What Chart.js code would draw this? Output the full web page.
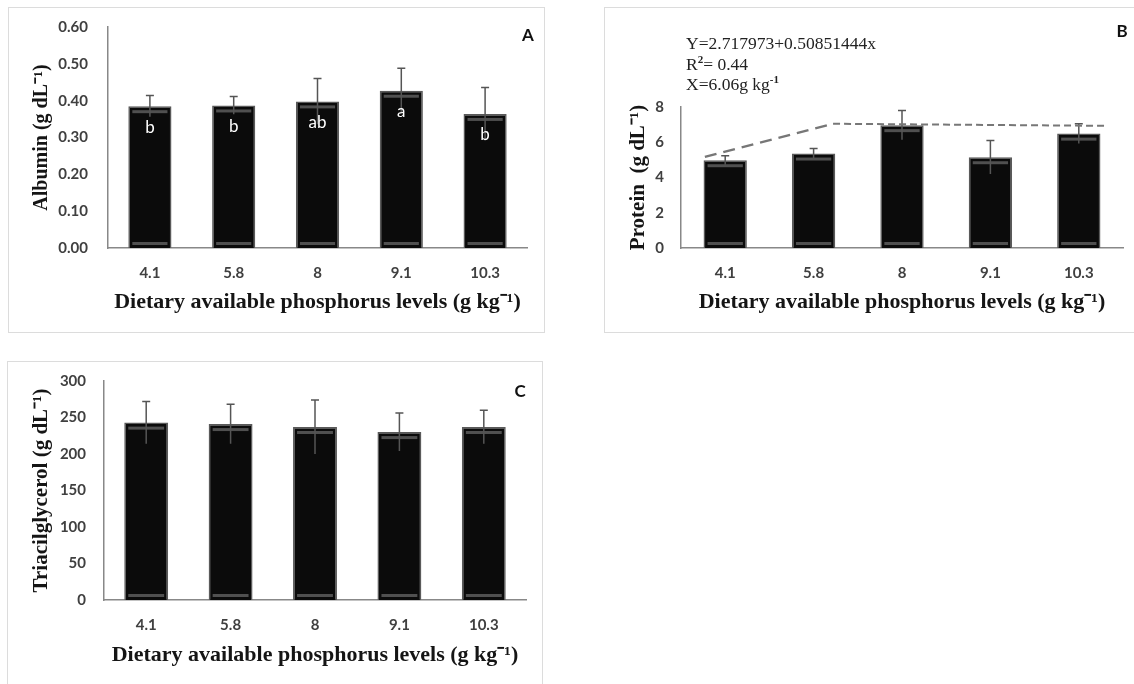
<!DOCTYPE html>
<html>
<head>
<meta charset="utf-8">
<script src="https://cdn.jsdelivr.net/npm/chart.js@4.4.1/dist/chart.umd.min.js"></script>
<style>
  body { margin: 0; background: #fff; width: 1134px; height: 684px; position: relative; overflow: hidden; }
  .box { position: absolute; border: 1px solid #dcdcdc; box-sizing: border-box; }
  canvas { position: absolute; }
  .lab { position: absolute; font: bold 17px Lato, sans-serif; color: #111; transform: translate(-50%, -50%); }
  .eq { position: absolute; left: 686px; top: 33px; font: 17.5px "Liberation Serif", serif; line-height: 20.5px; color: #222; white-space: nowrap; }
  .eq sup { font-size: 11px; font-weight: bold; line-height: 0; }
</style>
</head>
<body>
<div class="box" style="left:8px;top:7px;width:537px;height:326px"></div>
<div class="box" style="left:604px;top:7px;width:540px;height:326px"></div>
<div class="box" style="left:7px;top:361px;width:536px;height:340px"></div>

<canvas id="chartA" width="537" height="323" style="left:8px;top:7px"></canvas>
<canvas id="chartB" width="530" height="323" style="left:604px;top:7px"></canvas>
<canvas id="chartC" width="536" height="323" style="left:7px;top:361px"></canvas>

<div class="lab" style="left:528px;top:34px">A</div>
<div class="lab" style="left:1122px;top:30px">B</div>
<div class="lab" style="left:520px;top:390px">C</div>
<div class="eq">Y=2.717973+0.50851444x<br>R<sup>2</sup>= 0.44<br>X=6.06g kg<sup>-1</sup></div>

<script>
// dietary available phosphorus levels (g/kg)
const levels = ['4.1', '5.8', '8', '9.1', '10.3'];

// panel A - albumin
const albumin = [0.385, 0.387, 0.398, 0.427, 0.364];
const albuminErr = [0.029, 0.024, 0.062, 0.061, 0.072];
const albuminLetters = ['b', 'b', 'ab', 'a', 'b'];

// panel B - protein + plateau fit (x in category units)
const protein = [4.98, 5.36, 6.97, 5.15, 6.49];
const proteinErr = [0.26, 0.28, 0.83, 0.95, 0.56];
const plateauX = [-0.23, 1.22, 4.31];
const plateauY = [5.17, 7.05, 6.93];

// panel C - triacylglycerol
const triacyl = [243, 241, 237, 230, 237];
const triacylErr = [29, 27, 37, 26, 23];

const xTitle = 'Dietary available phosphorus levels (g kg\u207B\u00B9)';
const tickFont = { family: 'Lato', size: 15, weight: 'bold' };
const serif = 'Liberation Serif';

// stripes, error bars and letters on top of the bars
const barExtras = {
  id: 'barExtras',
  afterDatasetDraw(chart, args, opts) {
    if (args.index !== 0) return;
    const ctx = chart.ctx;
    const ys = chart.scales.y;
    const vals = chart.data.datasets[0].data;
    ctx.save();
    args.meta.data.forEach((bar, i) => {
      const p = bar.getProps(['x', 'y', 'base', 'width'], true);
      const l = p.x - p.width / 2;
      ctx.fillStyle = '#505050';
      ctx.fillRect(l + 4, p.y + 4, p.width - 8, 3);
      ctx.fillRect(l + 4, p.base - 6, p.width - 8, 3);

      const hi = ys.getPixelForValue(vals[i] + opts.errors[i]);
      const lo = ys.getPixelForValue(vals[i] - opts.errors[i]);
      ctx.strokeStyle = '#555';
      ctx.lineWidth = 1.5;
      ctx.beginPath();
      ctx.moveTo(p.x, lo); ctx.lineTo(p.x, hi);
      ctx.moveTo(p.x - 4, hi); ctx.lineTo(p.x + 4, hi);
      ctx.stroke();

      if (opts.letters) {
        ctx.fillStyle = '#fff';
        ctx.font = '17px Lato';
        ctx.textAlign = 'center';
        ctx.textBaseline = 'middle';
        ctx.fillText(opts.letters[i], p.x, p.y + 21);
      }
    });
    ctx.restore();
  }
};

function panel(id, cfg) {
  const datasets = [{
    type: 'bar',
    data: cfg.values,
    backgroundColor: '#0b0b0b',
    borderColor: '#5a5a5a',
    borderWidth: 1.5,
    barPercentage: cfg.barPct,
    categoryPercentage: 1,
    grouped: false,
    order: 2
  }];
  if (cfg.line) datasets.push(cfg.line);

  const scales = {
    x: {
      offset: true,
      grid: { display: false, drawTicks: false },
      border: { color: '#888', width: 1.5 },
      ticks: { font: tickFont, color: '#404040', padding: 16 },
      title: { display: true, text: xTitle, font: { family: serif, size: 22, weight: 'bold' }, color: '#151515', padding: { top: 0, bottom: cfg.xTitlePad } },
      afterFit(s) { s.height = cfg.xHeight; }
    },
    y: {
      min: 0, max: cfg.max,
      grid: { display: false, drawTicks: false },
      border: { color: '#888', width: 1.5 },
      ticks: { stepSize: cfg.step, font: tickFont, color: '#404040', padding: cfg.yTickPad, callback: cfg.fmt },
      title: { display: true, text: cfg.yTitle, font: { family: serif, size: cfg.yTitleSize, weight: 'bold' }, color: '#151515', padding: { top: cfg.yTitlePad, bottom: 0 } },
      afterFit(s) { s.width = cfg.yWidth; s.paddingTop = 0; s.paddingBottom = 0; }
    }
  };
  if (cfg.line) scales.xl = { type: 'linear', display: false, min: -0.5, max: 4.5 };

  return new Chart(document.getElementById(id), {
    data: { labels: levels, datasets },
    options: {
      responsive: false,
      animation: false,
      layout: { padding: { top: cfg.top, right: cfg.right, left: 0, bottom: 0 } },
      plugins: {
        legend: { display: false },
        tooltip: { enabled: false },
        barExtras: { errors: cfg.errors, letters: cfg.letters }
      },
      scales
    },
    plugins: [barExtras]
  });
}

panel('chartA', {
  values: albumin, errors: albuminErr, letters: albuminLetters,
  max: 0.6, step: 0.1, fmt: v => v.toFixed(2),
  yTitle: 'Albumin (g dL\u207B\u00B9)', yTitleSize: 20,
  barPct: 0.515, top: 20, right: 18, yWidth: 100, xHeight: 82,
  yTickPad: 20, yTitlePad: 22, xTitlePad: 14.5
});

panel('chartB', {
  values: protein, errors: proteinErr,
  max: 8, step: 2, fmt: v => v,
  yTitle: 'Protein  (g dL\u207B\u00B9)', yTitleSize: 21,
  barPct: 0.49, top: 100, right: 11, yWidth: 77, xHeight: 82,
  yTickPad: 17, yTitlePad: 22, xTitlePad: 14.5,
  line: {
    type: 'line',
    xAxisID: 'xl',
    data: plateauX.map((x, i) => ({ x, y: plateauY[i] })),
    borderColor: '#777',
    borderWidth: 2,
    pointRadius: 0,
    fill: false,
    order: 1,
    segment: {
      borderDash: c => c.p0DataIndex === 0 ? [12, 7] : [7, 4],
      borderWidth: c => c.p0DataIndex === 0 ? 2.5 : 2
    }
  }
});

panel('chartC', {
  values: triacyl, errors: triacylErr,
  max: 300, step: 50, fmt: v => v,
  yTitle: 'Triacilglycerol (g dL\u207B\u00B9)', yTitleSize: 21,
  barPct: 0.52, top: 20, right: 17, yWidth: 97, xHeight: 84,
  yTickPad: 18, yTitlePad: 22, xTitlePad: 15.5
});
</script>
</body>
</html>
